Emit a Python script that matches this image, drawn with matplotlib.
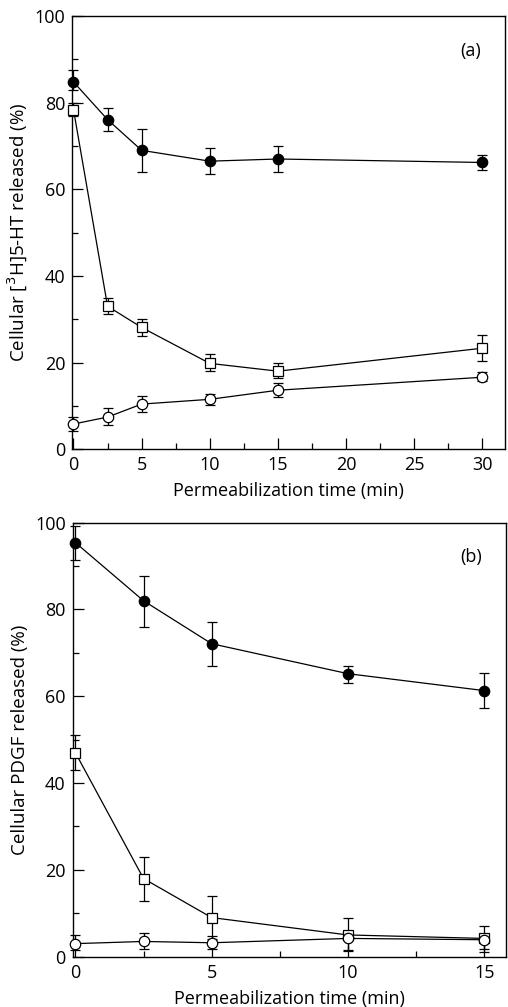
import numpy as np
import matplotlib.pyplot as plt
from matplotlib.ticker import MultipleLocator

plt.rcParams['font.family'] = ['Open Sans', 'DejaVu Sans']

# panel (a): [3H]5-HT release
time_a = [0, 2.5, 5, 10, 15, 30]
filled_a = [84.8, 76.1, 69.0, 66.5, 67.0, 66.2]
filled_a_lo = [83.0, 73.4, 64.0, 63.6, 64.0, 64.5]
filled_a_hi = [87.6, 78.7, 74.0, 69.6, 70.0, 68.0]
square_a = [78.4, 33.0, 28.1, 19.8, 18.0, 23.3]
square_a_lo = [77.0, 31.1, 26.1, 18.0, 16.4, 20.3]
square_a_hi = [80.0, 34.8, 30.0, 21.9, 19.9, 26.3]
circle_a = [5.8, 7.4, 10.4, 11.5, 13.6, 16.6]
circle_a_lo = [4.2, 5.5, 8.5, 10.2, 12.0, 15.7]
circle_a_hi = [7.5, 9.5, 12.3, 12.7, 15.2, 17.8]

# panel (b): PDGF release
time_b = [0, 2.5, 5, 10, 15]
filled_b = [95.4, 82.0, 72.1, 65.2, 61.3]
filled_b_lo = [91.5, 76.0, 67.0, 63.1, 57.4]
filled_b_hi = [99.3, 87.8, 77.2, 67.0, 65.4]
square_b = [47.0, 18.0, 9.0, 5.0, 4.2]
square_b_lo = [43.0, 12.9, 4.0, 1.5, 1.7]
square_b_hi = [51.0, 23.0, 14.0, 9.0, 7.1]
circle_b = [3.0, 3.5, 3.2, 4.2, 3.9]
circle_b_lo = [1.5, 1.8, 1.8, 1.2, 1.0]
circle_b_hi = [5.0, 5.4, 4.8, 5.0, 5.0]


def draw_series(ax, t, y, lo, hi, marker, face, ms):
    y = np.array(y)
    yerr = [y - np.array(lo), np.array(hi) - y]
    ax.errorbar(t, y, yerr=yerr, fmt='-', color='black', lw=0.9,
                elinewidth=0.9, capsize=3.5, capthick=0.9,
                marker=marker, mfc=face, mec='black', mew=0.9, ms=ms,
                clip_on=False, zorder=3)


def style_axes(ax, xmax, xmajor, ylabel, tag):
    ax.set_ylim(0, 100)
    ax.set_xlim(-0.1, xmax)
    ax.xaxis.set_major_locator(MultipleLocator(xmajor))
    ax.xaxis.set_minor_locator(MultipleLocator(2.5))
    ax.yaxis.set_major_locator(MultipleLocator(20))
    ax.yaxis.set_minor_locator(MultipleLocator(10))
    ax.tick_params(which='both', direction='in', top=False, right=False,
                   labelsize=13, width=0.9)
    ax.tick_params(which='major', length=8, pad=5)
    ax.tick_params(which='minor', length=4)
    for s in ax.spines.values():
        s.set_linewidth(1.0)
    ax.set_xlabel('Permeabilization time (min)', fontsize=13, labelpad=6)
    ax.set_ylabel(ylabel, fontsize=13.5, labelpad=4)
    ax.text(0.92, 0.92, tag, transform=ax.transAxes, fontsize=13,
            ha='center', va='center')


fig = plt.figure(figsize=(5.08, 10.07), dpi=100)
ax1 = fig.add_axes([0.142, 0.554, 0.853, 0.430])
ax2 = fig.add_axes([0.143, 0.050, 0.853, 0.431])

draw_series(ax1, time_a, filled_a, filled_a_lo, filled_a_hi, 'o', 'black', 7.5)
draw_series(ax1, time_a, square_a, square_a_lo, square_a_hi, 's', 'white', 6.5)
draw_series(ax1, time_a, circle_a, circle_a_lo, circle_a_hi, 'o', 'white', 7.5)
style_axes(ax1, 31.7, 5, 'Cellular [$^3$H]5-HT released (%)', '(a)')

draw_series(ax2, time_b, filled_b, filled_b_lo, filled_b_hi, 'o', 'black', 7.5)
draw_series(ax2, time_b, square_b, square_b_lo, square_b_hi, 's', 'white', 6.5)
draw_series(ax2, time_b, circle_b, circle_b_lo, circle_b_hi, 'o', 'white', 7.5)
style_axes(ax2, 15.8, 5, 'Cellular PDGF released (%)', '(b)')

fig.savefig('out.png', dpi=100)
